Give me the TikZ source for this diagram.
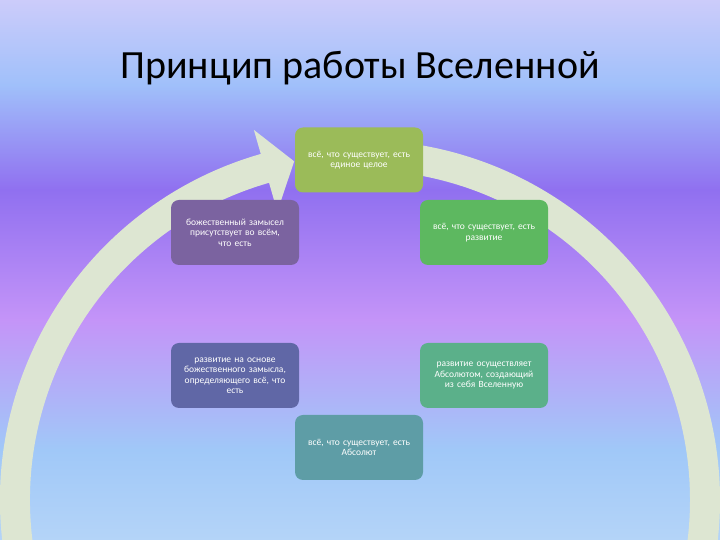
\documentclass[tikz,border=0pt]{standalone}
\usepackage{fontspec}
\setmainfont{Carlito}
\begin{document}
\begin{tikzpicture}[x=1pt,y=1pt,
  box/.style={rounded corners=8pt,minimum width=128pt,minimum height=65pt,text width=122pt,align=center,text=white,font=\fontsize{9.5}{10.5}\selectfont,inner sep=2pt},
  band/.style={fill=arcc}]
\definecolor{c0}{HTML}{CCCCFA}\definecolor{c1}{HTML}{A0C0FA}\definecolor{c2}{HTML}{9070F0}
\definecolor{c3}{HTML}{C494F8}\definecolor{c4}{HTML}{A0C8F8}\definecolor{c5}{HTML}{B4D4F8}
\definecolor{arcc}{HTML}{DDE6D2}
\useasboundingbox (0,0) rectangle (720,540);
\shade[top color=c0,bottom color=c1] (0,540) rectangle (720,455);
\shade[top color=c1,bottom color=c2] (0,455.5) rectangle (720,350);
\shade[top color=c2,bottom color=c3] (0,350.5) rectangle (720,220);
\shade[top color=c3,bottom color=c4] (0,220.5) rectangle (720,90);
\shade[top color=c4,bottom color=c5] (0,90.5) rectangle (720,0);
% arrow band, center (360,40)
\fill[band] ([shift={(-10:360)}]360,40) arc[start angle=-10,end angle=85,radius=360]
  -- ([shift={(85:330)}]360,40) arc[start angle=85,end angle=-10,radius=330] -- cycle;
\fill[band] ([shift={(192:360)}]360,40) arc[start angle=192,end angle=106,radius=360]
  -- ([shift={(106:385)}]360,40) -- ([shift={(101:345)}]360,40) -- ([shift={(106:300)}]360,40)
  -- ([shift={(106:330)}]360,40) arc[start angle=106,end angle=192,radius=330] -- cycle;
\node[font=\fontsize{40}{44}\selectfont] (t) at (360,472) {Принцип работы Вселенной};
\node[box,fill={rgb,255:red,155;green,187;blue,89}] (a) at (359,380) {всё, что существует, есть\\единое целое};
\node[box,fill={rgb,255:red,123;green,99;blue,160}] (b) at (235,307.5) {божественный замысел\\присутствует во всём,\\что есть};
\node[box,fill={rgb,255:red,93;green,184;blue,96}] (c) at (484,307.5) {всё, что существует, есть\\развитие};
\node[box,fill={rgb,255:red,96;green,103;blue,166}] (d) at (235,164.5) {развитие на основе\\божественного замысла,\\определяющего всё, что\\есть};
\node[box,fill={rgb,255:red,91;green,176;blue,138}] (e) at (484,164.5) {развитие осуществляет\\Абсолютом, создающий\\из себя Вселенную};
\node[box,fill={rgb,255:red,94;green,157;blue,166}] (f) at (359,92.5) {всё, что существует, есть\\Абсолют};
\end{tikzpicture}
\end{document}
